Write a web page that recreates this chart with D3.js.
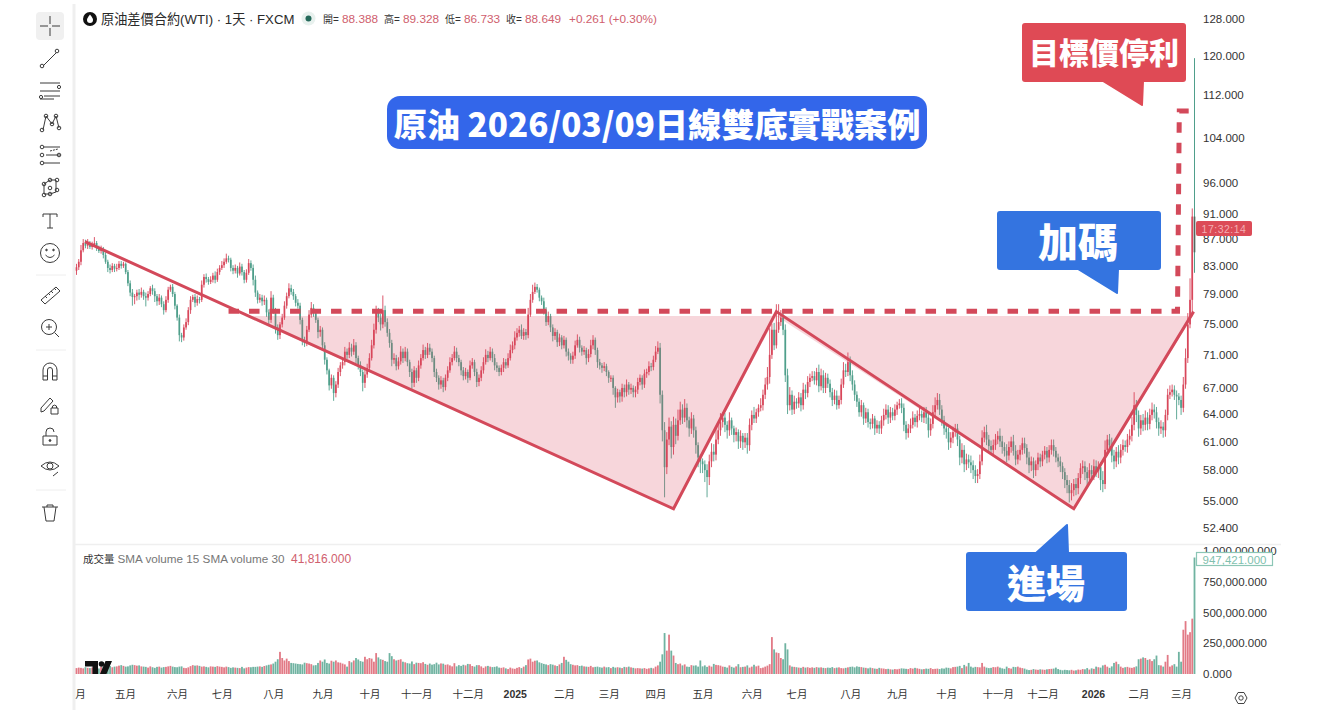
<!DOCTYPE html>
<html><head><meta charset="utf-8">
<script src="https://cdn.jsdelivr.net/npm/d3@7"></script>
<style>
html,body{margin:0;padding:0;background:#fff;overflow:hidden}
svg{display:block}
text{font-family:"Liberation Sans","Noto Sans CJK TC",sans-serif}
.cjk{font-family:"Noto Sans CJK TC",sans-serif;font-weight:900;fill:#fff;text-anchor:middle;dominant-baseline:central}
.axis text{fill:#333;font-size:11.5px}
.axis path,.axis line{display:none}
</style></head><body><svg id="c" width="1330" height="716"></svg>
<script>
const closes=[
82.8,83.6,85.3,86.4,86.0,86.3,85.8,86.1,86.4,85.6,
85.2,85.5,84.6,83.6,82.7,82.4,83,82.6,82.7,83.3,
83,83.3,82.1,80.5,79.2,78.6,78.7,79.2,78.9,79.3,
78.7,78.5,79,79.8,79.4,78.7,78,78.5,77.6,76.8,
78.2,79.6,80,79,77.4,75.8,73.5,73.2,74.5,75.2,
76.8,78.2,78.6,77.8,78.3,78.2,80.3,81.4,81.1,80.7,
81,81.6,81,82.1,82.7,83.1,83.6,84.1,83.9,82.7,
82.3,82.7,81.9,82.9,82.1,81,82,83.4,82.7,81,
79.2,78.2,78.5,78,78.2,76.5,75.5,78.5,76.8,74.5,
73.5,74.9,75.8,77.4,78.7,79.8,79.3,78.7,77.8,77.4,
75.5,72.9,72.5,74.2,76.2,77.1,76.4,75.5,73.9,74.2,
72.2,70.4,69.1,67.3,68.2,66.4,67.4,68.9,69.7,70.1,
71.4,71,71.9,71.4,72.2,70.6,69.7,68.9,67.6,68.6,
69.4,70.6,72.2,74.2,76.5,75.8,74.9,76.8,75.2,73.8,
72.5,70.4,70.6,69.6,70.2,71.4,70.6,71.4,70.1,68.9,
67.6,69.1,68.2,69.7,70.6,71.6,71,71.9,71.4,70.6,
68.9,68.2,67.4,67.9,67.1,68.2,69.1,70.1,70.6,71.4,
70.6,70.1,69.1,68.4,68.9,68.2,69.7,70.1,68.9,67.7,
68.2,69.1,70.1,71,70.6,71.4,70.6,69.7,69.4,68.9,
69.4,70.1,69.7,70.6,71.6,72.2,73.2,73.8,74.2,73.4,
73.9,73.5,76.2,78.2,79.3,80,79.6,78.5,78,76.8,
75.2,76,74.5,73.4,73.9,72.6,73.2,72.2,72.9,71.4,
70.9,70.4,70.9,72.2,72.9,71.9,71.4,71.6,70.6,71.1,
72.2,72.9,71.6,70.1,69.7,69.4,69.6,68.9,68.2,68.2,
67,65.9,66.5,66,67,66.5,67.4,66.8,67,66.5,
66.8,67.7,68.2,67.4,68.7,68.9,69.6,69.5,70.4,71.4,
71.9,66.2,62.2,58.3,61.2,62.6,60.4,62.8,61.6,63.3,
64.5,63.6,64.7,63.3,62.4,63.5,62.2,60.6,59.3,58.9,
58.6,58,57.3,58.9,59.9,59.6,61.2,62.2,63.1,63.6,
62.8,62.2,63.3,62.4,61.7,62,61,61.6,60.9,61.4,
60.6,62.8,63.9,63.5,64.2,64.7,65,66.2,67.4,68.3,
71,74.2,72.2,74.2,75.2,75.8,74.2,68.5,65,66.2,
64.5,65.4,65.2,65.9,65,66.8,66.4,67.7,68.2,68.4,
67.9,68.9,67.2,68.5,67,68.2,67.5,66.5,65.6,66.1,
65,65.6,67.4,69.1,68.9,70.1,68.5,67.4,66.2,65.4,
64.2,65,63.5,64.2,63.1,62.9,63.5,62.4,62.8,62.4,
63.3,63.9,64.5,63.6,64.2,63.8,64.5,65,65.2,64.7,
62.8,61.9,62.4,62.8,63.6,63.1,63.8,64,63.6,64.2,
63.6,62.2,62.9,64.2,65,65.6,64.5,63.3,62.4,62,
60.9,61.4,62,62.4,61.2,59.3,60.1,58.6,59.1,58.8,
58.5,58,57.4,57.6,58.9,61.4,62,61.2,60.5,60.1,
60.6,61.2,61.6,61,60.4,60,59.5,60.4,61,60,
59.1,59.6,60.1,60.8,60.3,59.3,58.5,58.9,58,58.6,
59.3,58.9,59.6,60,59.3,60.1,60.6,60,59.3,58.9,
58.4,57.8,57,56.5,55.7,56,56.6,56.2,57.2,58.2,
58.4,57.8,57.2,58,57.6,58.4,57.9,58.3,57,56.6,
60.1,61.2,60.6,59.5,58.9,59.9,59.3,60.1,60.6,60.4,
61.2,61.6,62.8,65,63.9,62.4,63.3,62.8,63.6,62.9,
63.9,64.5,64.2,63.1,62.4,62.6,62.2,63.9,66.2,66.5,
66.8,66.2,66,65.6,64.7,67.4,70.6,74.9,78.2,90.5,
85];
const wickUp=[
5,4,8,6,5,7,4,5,9,3, 4,5,3,4,3,5,4,3,6,4, 4,3,2,3,4,5,3,4,5,6, 3,5,4,3,5,4,3,5,3,4, 5,4,3,4,3,2,4,3,4,5,
4,5,3,4,5,3,6,4,5,3, 5,4,6,5,4,6,5,7,4,3, 4,5,3,6,4,3,5,6,4,5, 6,3,5,4,6,3,4,9,4,3, 4,3,5,6,5,7,5,4,3,5,
4,3,4,5,6,8,5,4,3,5, 3,4,3,2,4,3,4,5,4,5, 6,4,7,5,8,4,3,5,3,6, 5,6,7,8,9,6,5,20,6,5, 5,4,6,4,5,7,4,6,4,3,
4,5,3,6,5,7,4,6,5,4, 3,4,3,5,3,4,5,6,5,7, 5,4,3,4,5,3,6,5,3,4, 4,5,6,7,5,6,4,5,4,3, 4,5,4,6,7,5,8,6,5,7,
5,4,9,8,10,6,4,3,3,5, 4,6,3,4,5,3,5,3,5,3, 4,3,5,6,7,4,3,5,3,6, 7,6,3,3,4,3,5,3,2,3, 3,2,4,3,5,4,6,3,5,3,
4,5,4,3,5,4,6,4,5,7, 8,6,5,9,8,10,6,9,7,12, 9,6,10,5,4,7,4,4,3,3, 3,4,6,7,9,8,12,9,10,6, 5,4,9,3,3,5,3,6,3,5,
5,7,5,9,4,4,8,6,8,12, 34,8,9,34,24,10,8,7,8,9, 5,7,4,6,5,8,6,7,5,6, 6,5,9,8,6,6,5,5,5,7, 6,5,7,10,8,12,7,6,5,4,
4,6,3,5,4,4,5,3,5,4, 5,7,6,5,6,5,6,4,5,6, 5,4,5,7,7,4,6,7,4,6, 6,5,6,8,9,8,7,5,5,5, 5,6,6,5,5,4,7,5,6,5,
7,5,5,5,7,8,6,8,5,6, 6,6,5,8,6,5,7,6,5,7, 6,5,5,6,6,4,6,5,4,4, 5,4,4,5,4,5,6,6,4,4, 5,4,4,5,5,7,5,6,5,5,
6,5,5,7,5,7,6,6,5,9, 10,5,6,8,6,5,7,6,6,5, 6,7,9,15,6,5,6,7,8,6, 7,8,6,6,5,7,5,6,7,8, 6,5,5,4,5,9,12,15,30,13,
290];
const wickDown=[
6,4,5,3,4,5,3,4,3,4, 3,4,5,3,6,5,3,5,4,3, 4,3,3,4,5,12,10,6,7,4, 5,12,4,3,5,8,6,5,4,6, 3,4,3,4,5,4,8,6,4,3,
4,5,3,6,4,5,3,4,5,4, 3,4,5,3,4,3,4,3,4,5, 5,4,6,3,5,5,4,3,4,8, 6,5,4,6,5,6,8,4,5,8, 6,5,4,3,4,3,4,5,5,4,
6,7,5,4,3,4,5,4,8,6, 5,6,5,6,4,9,5,4,5,4, 4,5,4,6,4,6,5,5,10,6, 4,3,3,4,5,6,8,5,6,5, 6,8,5,5,4,4,6,4,5,6,
7,5,6,4,4,3,5,4,4,5, 6,5,6,5,6,4,4,3,4,3, 5,5,6,5,4,6,3,4,5,6, 5,4,4,3,5,3,5,6,5,5, 4,5,4,3,3,4,5,4,5,4,
5,6,4,3,4,3,4,5,5,6, 5,4,6,7,5,6,5,5,4,6, 6,5,5,4,3,6,5,4,8,5, 4,5,6,7,5,6,4,5,6,5, 8,12,6,7,6,6,5,6,5,6,
6,5,4,6,4,5,4,5,4,3, 3,10,12,30,7,6,12,8,9,5, 5,7,5,8,9,6,8,9,10,12, 9,12,20,8,6,7,6,5,6,6, 8,9,6,7,8,7,8,7,8,6,
9,6,6,5,5,5,4,6,5,6, 8,5,6,4,4,5,7,8,10,6, 6,5,6,5,7,5,7,5,6,4, 5,6,7,5,6,6,5,6,7,5, 5,4,5,4,6,5,7,7,7,6,
5,5,7,5,6,6,5,7,5,6, 6,6,5,7,6,5,5,6,4,6, 7,7,5,5,4,5,6,5,5,6, 7,8,6,5,5,5,6,6,7,7, 8,6,6,5,7,8,6,8,6,6,
8,9,7,7,5,4,5,6,6,5, 5,5,5,6,7,6,7,5,6,5, 6,5,6,5,6,7,8,6,8,6, 6,6,5,5,6,5,5,6,5,6, 6,7,8,8,9,7,6,7,6,6,
6,8,7,6,7,6,6,7,10,8, 5,6,6,7,8,6,7,6,6,5, 6,6,6,6,8,9,7,7,6,7, 6,6,7,7,8,6,8,7,6,5, 5,6,26,6,8,5,5,6,5,22,
30];
const volumes=[
48,52,50,46,55,50,48,52,46,50, 45,60,58,62,70,65,55,60,62,68, 72,66,60,62,70,75,72,68,70,62, 60,58,52,62,55,50,58,60,52,56,
58,62,66,60,56,55,60,62,50,48, 54,64,72,68,70,66,60,62,58,54, 62,60,58,64,60,58,54,60,56,50, 54,52,50,48,58,46,52,56,55,58,
58,60,62,58,65,70,75,78,85,100, 120,180,130,110,125,105,90,88,85,82, 80,78,92,88,85,80,70,72,90,110, 100,118,90,85,108,100,110,95,92,85,
78,60,105,95,110,130,118,105,100,140, 120,130,125,100,170,135,120,115,105,100, 170,145,120,110,115,120,100,95,88,85, 102,80,92,90,88,96,82,75,85,76,
80,92,78,86,84,75,78,70,62,88, 62,72,66,75,70,82,80,65,60,72, 72,62,50,62,66,60,56,58,62,52, 50,54,46,40,52,45,42,50,56,48,
60,72,118,125,100,108,110,95,88,82, 78,72,80,76,70,65,78,90,140,115, 100,80,75,70,72,65,68,62,60,58, 66,55,58,60,55,52,60,54,56,48,
58,52,55,52,48,58,55,60,54,50, 46,48,46,44,48,42,46,50,46,60, 70,100,160,333,190,320,190,150,90,80, 85,70,78,60,58,72,68,70,60,110,
62,70,58,68,60,82,74,72,68,60, 58,52,70,58,52,62,80,55,58,60, 70,52,60,75,62,68,48,52,60,68, 80,300,200,175,170,130,120,250,200,70,
60,58,55,52,50,58,52,55,50,54, 50,56,52,54,50,48,52,50,56,48, 52,54,48,46,50,54,58,60,54,62, 58,56,52,50,46,52,48,44,42,50,
46,44,40,42,38,36,40,38,42,46, 44,42,40,48,44,50,46,42,38,40, 44,42,48,40,42,44,40,46,44,52, 50,46,56,58,60,66,48,74,62,90,
60,52,58,56,54,90,60,52,48,50, 56,55,60,52,46,42,60,48,44,58, 56,60,52,48,44,36,32,34,40,36, 34,38,36,34,38,40,42,44,52,40,
34,30,34,32,30,34,28,30,36,34, 40,38,48,36,46,42,60,55,52,70, 75,60,50,62,90,100,80,60,50,55, 58,52,50,55,62,120,125,135,130,115,
120,105,120,150,72,70,60,100,155,60, 70,80,60,180,100,360,430,320,340,450,
947];
const priceTicks=[128,120,112,104,96,91,87,83,79,75,71,67,64,61,58,55,52.4];
const volumeTicks=[0,250,500,750,1000];
const monthLabels=["月","五月","六月","七月","八月","九月","十月","十一月","十二月","2025","二月","三月","四月","五月","六月","七月","八月","九月","十月","十一月","十二月","2026","二月","三月"];
const monthIdx=[1.6,21.7,45,65,88,110,131,152,175,196,218,238,259,280,302,322,346,367,389,412,432,454.6,475,494];
const yearLabels=["2025","2026"];
const trendLeft=[[3.8,86.6],[267,54.2],[313,76.6],[446,54.2],[499.6,76.6]];
const fillShape=[[75.4,76.0],[267,54.2],[313,76.0],[446,54.2],[499.2,76.0]];
const neckline=[[68,76.65],[492.4,76.65],[493.2,108.9],[500.5,108.9]];

const svg=d3.select("#c");
const x=d3.scaleLinear().domain([0,closes.length-1]).range([76.5,1194.5]);
const y=d3.scaleLog().domain([52.4,128]).range([528,19]);
const yv=d3.scaleLinear().domain([0,1000]).range([674,551]);
const RED="#d8465a",GRN="#4f9f8b",MARK="#d3495a";

// frame lines
svg.append("rect").attr("x",72.5).attr("y",4).attr("width",3).attr("height",706).attr("fill","#efefef");
svg.append("line").attr("x1",74).attr("x2",1281).attr("y1",544.5).attr("y2",544.5).attr("stroke","#efefef").attr("stroke-width",1.5);

// filter
const defs=svg.append("defs");
defs.append("filter").attr("id","soft").append("feGaussianBlur").attr("stdDeviation",0.35);

// candles
const bars=closes.map((c,i)=>{const o=i?closes[i-1]:c-0.5;return{i,o,c,h:Math.max(o,c)+wickUp[i]/10,l:Math.min(o,c)-wickDown[i]/10,v:volumes[i]};});
const gc=svg.append("g").attr("filter","url(#soft)");
gc.selectAll("line.w").data(bars).join("line").attr("class","w")
 .attr("x1",d=>x(d.i)).attr("x2",d=>x(d.i)).attr("y1",d=>y(d.h)).attr("y2",d=>y(d.l))
 .attr("stroke",d=>d.c>=d.o?RED:GRN).attr("stroke-width",d=>d.i===closes.length-1?1:0.9);
gc.selectAll("rect.b").data(bars).join("rect").attr("class","b")
 .attr("x",d=>x(d.i)-0.85).attr("width",1.7)
 .attr("y",d=>y(Math.max(d.o,d.c))).attr("height",d=>Math.max(1,y(Math.min(d.o,d.c))-y(Math.max(d.o,d.c))))
 .attr("fill",d=>d.i===closes.length-1?"#52685f":(d.c>=d.o?RED:GRN));

// pattern fill and lines
const ln=d3.line().x(d=>x(d[0])).y(d=>y(d[1]));
svg.append("path").attr("d",ln(fillShape)+"Z").attr("fill","#d9465a").attr("opacity",0.22);
svg.append("path").attr("d",ln(neckline)).attr("fill","none").attr("stroke",MARK).attr("stroke-width",5).attr("stroke-dasharray","10.5 10");
svg.append("path").attr("d",ln(trendLeft)).attr("fill","none").attr("stroke",MARK).attr("stroke-width",3).attr("stroke-linejoin","miter");

// volume
const gv=svg.append("g").attr("filter","url(#soft)");
gv.selectAll("rect").data(bars).join("rect")
 .attr("x",d=>x(d.i)-0.9).attr("width",1.8).attr("y",d=>yv(d.v)).attr("height",d=>yv(0)-yv(d.v))
 .attr("fill",d=>d.i===closes.length-1?"#6fb3a1":(d.c>=d.o?"#e27a86":"#6fb3a1"));

// axes
svg.append("g").attr("class","axis").attr("transform","translate(1203,0)")
 .call(d3.axisRight(y).tickValues(priceTicks).tickSize(0).tickPadding(0).tickFormat(d3.format(".3f")));
svg.append("g").attr("class","axis").attr("transform","translate(1203,0)")
 .call(d3.axisRight(yv).tickValues(volumeTicks).tickSize(0).tickPadding(0).tickFormat(d=>d3.format(",.3f")(d*1e3)));
const monthPos=monthIdx.map((d,i)=>i);
const xa=d3.scaleOrdinal().domain(monthPos).range(monthIdx.map(x));
const gx=svg.append("g").attr("class","axis").attr("transform","translate(0,689)")
 .call(d3.axisBottom(xa).tickValues(monthPos).tickSize(0).tickPadding(0).tickFormat(i=>monthLabels[i]));
gx.selectAll("text").attr("dy","0.9em").style("font-size","10.5px")
 .style("font-weight",(i)=>yearLabels.includes(monthLabels[i])?"700":"400");

// badges
svg.append("rect").attr("x",1196).attr("y",221).attr("width",56).attr("height",15).attr("rx",2).attr("fill","#dc4b57");
svg.append("text").attr("x",1224).attr("y",232.5).attr("text-anchor","middle").attr("font-size",10.5).attr("letter-spacing",0.5).attr("fill","#f3aeb3").text("17:32:14");
svg.append("rect").attr("x",1196.5).attr("y",552.5).attr("width",76).attr("height",13).attr("fill","#fff").attr("stroke","#8cc6b6").attr("stroke-width",1.2);
svg.append("text").attr("x",1234.5).attr("y",563.5).attr("text-anchor","middle").attr("font-size",11.5).attr("fill","#7fbfae").text("947,421.000");

// header
const hdr=svg.append("g");
hdr.append("circle").attr("cx",90).attr("cy",19).attr("r",7).attr("fill","#111");
hdr.append("path").attr("d","M90 14.5C88 17 87 18.5 87 20a3 3 0 0 0 6 0c0-1.5-1-3-3-5.5Z").attr("fill","#fff");
hdr.append("text").attr("x",101).attr("y",23.5).attr("font-size",13.2).attr("fill","#2a2a2a").text("原油差價合約(WTI) · 1天 · FXCM");
hdr.append("circle").attr("cx",308.5).attr("cy",18.5).attr("r",7).attr("fill","#e8f1ee");
hdr.append("circle").attr("cx",308.5).attr("cy",18.5).attr("r",3).attr("fill","#24695a");
const ohlcLabels=["開=","高=","低=","收="],ohlcVals=["88.388","89.328","86.733","88.649"],ohlcX=[323,384,445,506];
ohlcLabels.forEach((l,i)=>{
 hdr.append("text").attr("x",ohlcX[i]).attr("y",22.5).attr("font-size",10).attr("fill","#333").text(l);
 hdr.append("text").attr("x",ohlcX[i]+19).attr("y",22.5).attr("font-size",11.8).attr("fill","#d0606e").text(ohlcVals[i]);
});
hdr.append("text").attr("x",569).attr("y",22.5).attr("font-size",11.8).attr("fill","#d0606e").text("+0.261 (+0.30%)");

// volume legend
svg.append("text").attr("x",83).attr("y",563).attr("font-size",10.5).attr("fill","#333").text("成交量");
svg.append("text").attr("x",117.5).attr("y",563).attr("font-size",11.7).attr("fill","#777").text("SMA volume 15 SMA volume 30");
svg.append("text").attr("x",291).attr("y",563).attr("font-size",12).attr("fill","#d0606e").text("41,816.000");

// TV logo
svg.append("path").attr("d","M85 661h13v13h-5.500v-7.500h-7.500ZM100 674l5.500-13h6.500l-5.500 13Z").attr("fill","#111");
svg.append("circle").attr("cx",101.5).attr("cy",664).attr("r",2.8).attr("fill","#111");

// gear
svg.append("path").attr("d","M1235 698l3-5.500h6l3 5.500-3 5.500h-6Z").attr("fill","none").attr("stroke","#444");
svg.append("circle").attr("cx",1241).attr("cy",698).attr("r",2.2).attr("fill","none").attr("stroke","#444");

// title box
svg.append("rect").attr("x",387).attr("y",96).attr("width",540).attr("height",53).attr("rx",13).attr("fill","#3366ea");
svg.append("text").attr("class","cjk").attr("x",657).attr("y",122).attr("font-size",33.2).text("原油 2026/03/09日線雙底實戰案例");

// callouts
function callout(rect,tail,fill,label,fs,tx,ty){
 svg.append("rect").attr("x",rect[0]).attr("y",rect[1]).attr("width",rect[2]).attr("height",rect[3]).attr("rx",3).attr("fill",fill);
 svg.append("path").attr("d","M"+tail.join("L")+"Z").attr("fill",fill).attr("stroke",fill).attr("stroke-linejoin","round").attr("stroke-width",2);
 svg.append("text").attr("class","cjk").attr("x",tx).attr("y",ty).attr("font-size",fs).text(label);
}
callout([1022,23,164,59],[[1103,81],[1142,105],[1143,81]],"#df4a55","目標價停利",30,1104,51);
callout([997,211,164,59],[[1078,269],[1117,293],[1118,269]],"#3474e0","加碼",40,1078,240);
callout([966,552,161,59],[[1036,553],[1067,525],[1068,553]],"#3474e0","進場",39,1046,581);

// toolbar
svg.append("rect").attr("x",36).attr("y",12).attr("width",28).attr("height",28).attr("rx",4).attr("fill","#f0f0f0");
const tb=svg.append("g").attr("fill","none").attr("stroke","#3a3a3a").attr("stroke-width",1);
const P=d=>tb.append("path").attr("d",d);
const C=(x,y,r)=>tb.append("circle").attr("cx",x).attr("cy",y).attr("r",r);
P("M40 26h8M52 26h8M50 16v8M50 28v8");
P("M43 66L56 53");C(42,66,1.8);C(57,51,1.8);
P("M40 83h20M40 91h20M40 99h14M44 96h16");C(59,87,1.6);C(41,97,1.6);
P("M43 130L46 116L52 124L56 116L59 128");C(42,130,1.8);C(46,116,1.8);C(52,124,1.8);C(56,116,1.8);C(59,128,1.8);
P("M44 147h16M46 155h14M44 163h16");P("M50 151l8-2").attr("stroke-dasharray","2 1");C(42,147,1.8);C(42,155,1.8);C(42,163,1.8);C(59,155,1.8);
P("M44 184l6-4h6v12l-6 2h-6Z");C(44,184,1.8);C(50,180,1.8);C(57,180,1.8);C(57,190,1.8);C(50,194,1.8);C(44,195,1.8);C(50,188,1.8);
P("M43 214v3M43 214h14v3M50 214v14M47 228h6");
C(50,253,9.5);P("M45.500 255q4.500 5 9 0");tb.append("circle").attr("cx",46.5).attr("cy",250).attr("r",.8).attr("fill","#333");tb.append("circle").attr("cx",53.5).attr("cy",250).attr("r",.8).attr("fill","#333");
P("M41 300L56 287L60 291L45 304ZM45 296l2 2M48 293l2 2M51 291l2 2M54 288l2 2");
C(49,327,7.5);P("M54.500 332.500L59 337M46 327h6M49 324v6");
P("M43 380v-10a7 7 0 0 1 14 0v10h-4.500v-10a2.500 2.500 0 0 0-5 0v10ZM43 376h4.500M52.500 376h4.500");
P("M41 408l9-10 3 3-9 10-3 1ZM51 408h7v6h-7ZM52.500 408v-2a3 3 0 0 1 4 0v2");
P("M43 436h14v9h-14ZM46 436v-4a4 4 0 0 1 8 0");tb.append("circle").attr("cx",50).attr("cy",440.5).attr("r",.9).attr("fill","#333");
P("M41 466q9-8 18 0q-9 8-18 0ZM53 476l5-4");C(50,466,3);
P("M42 507h16M44 507l2 14h8l2-14M47 507v-2h6v2");
const sep=[275,350,490];
svg.selectAll("line.sep").data(sep).join("line").attr("class","sep").attr("x1",36).attr("x2",66).attr("y1",d=>d).attr("y2",d=>d).attr("stroke","#eee");
</script></body></html>
